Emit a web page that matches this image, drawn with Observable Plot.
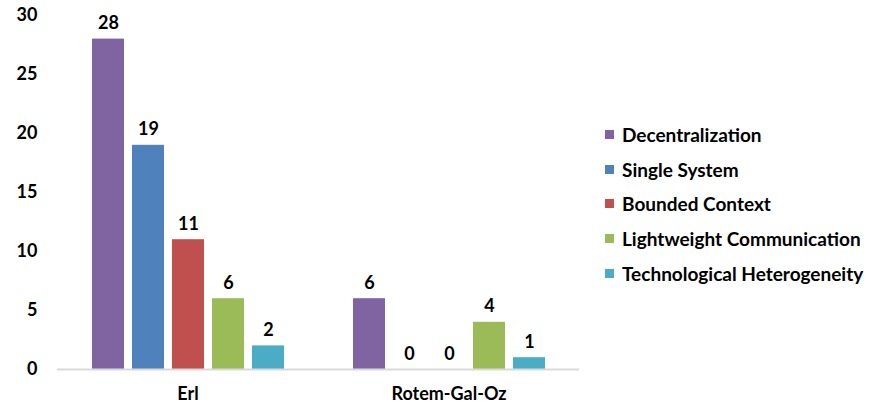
<!DOCTYPE html>
<html>
<head>
<meta charset="utf-8">
<script src="https://cdn.jsdelivr.net/npm/d3@7"></script>
<script src="https://cdn.jsdelivr.net/npm/@observablehq/plot@0.6"></script>
<style>
  html, body { margin: 0; padding: 0; background: #fff; }
  #wrap { position: relative; width: 870px; height: 409px; font-family: Lato, "Open Sans", sans-serif; font-weight: bold; }
  #legend { position: absolute; left: 605px; top: 117px; }
  .item { display: flex; align-items: center; height: 34.8px; font-size: 19px; color: #000; white-space: nowrap; }
  .sw { width: 9px; height: 9px; margin-right: 8px; }
</style>
</head>
<body>
<div id="wrap"><div id="chart"></div><div id="legend"></div></div>
<script>
const groups = ["Erl", "Rotem-Gal-Oz"];
const series = ["Decentralization", "Single System", "Bounded Context", "Lightweight Communication", "Technological Heterogeneity"];
const erlValues = [28, 19, 11, 6, 2];
const rotemValues = [6, 0, 0, 4, 1];
const yTicks = [0, 5, 10, 15, 20, 25, 30];
const colors = ["#8064A2", "#4F81BD", "#C0504D", "#9BBB59", "#4BACC6"];

const data = [];
series.forEach((s, i) => data.push({group: groups[0], series: s, value: erlValues[i]}));
series.forEach((s, i) => data.push({group: groups[1], series: s, value: rotemValues[i]}));

const chart = Plot.plot({
  width: 870,
  height: 409,
  marginLeft: 56,
  marginRight: 291,
  marginTop: 15,
  marginBottom: 40,
  style: {fontFamily: "Lato, 'Open Sans', sans-serif", fontWeight: "bold", fontSize: "18px", color: "#000"},
  fx: {domain: groups, padding: 0, label: null, axis: "bottom", tickSize: 0, tickPadding: 18},
  x: {domain: series, axis: null, paddingInner: 0.2, paddingOuter: 0.85},
  y: {domain: [0, 30], ticks: yTicks, label: null, tickSize: 0, tickPadding: 20},
  color: {domain: series, range: colors},
  marks: [
    Plot.barY(data, {fx: "group", x: "series", y: "value", fill: "series"}),
    Plot.ruleY([0], {stroke: "#d9d9d9", strokeWidth: 2}),
    Plot.text(data, {fx: "group", x: "series", y: "value", text: d => String(d.value), lineAnchor: "bottom", dy: -10, fontSize: 18, fontWeight: "bold", fill: "#000"})
  ]
});
document.getElementById("chart").appendChild(chart);

const legend = document.getElementById("legend");
series.forEach((s, i) => {
  const row = document.createElement("div");
  row.className = "item";
  const sw = document.createElement("span");
  sw.className = "sw";
  sw.style.background = colors[i];
  const t = document.createElement("span");
  t.textContent = s;
  row.appendChild(sw);
  row.appendChild(t);
  legend.appendChild(row);
});
</script>
</body>
</html>
